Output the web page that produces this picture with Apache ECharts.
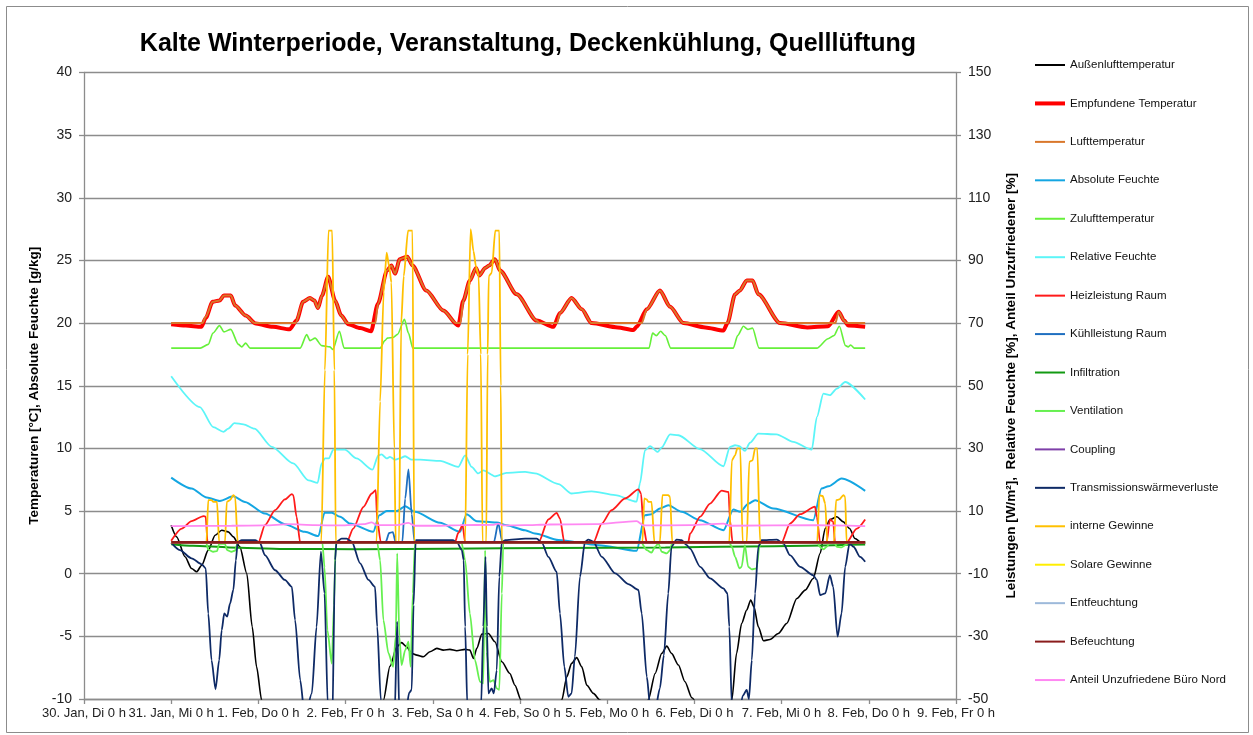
<!DOCTYPE html>
<html>
<head>
<meta charset="utf-8">
<script src="https://cdn.jsdelivr.net/npm/echarts@6/dist/echarts.min.js"></script>
<style>
  html, body { margin: 0; padding: 0; background: #fff; }
  #chart { width: 1253px; height: 735px; }
</style>
</head>
<body>
<div id="chart"></div>
<script>
// Time axis: hours since 30 Jan 0 h, one tick per day
const xLabels = ['30. Jan, Di 0 h', '31. Jan, Mi 0 h', '1. Feb, Do 0 h', '2. Feb, Fr 0 h', '3. Feb, Sa 0 h',
  '4. Feb, So 0 h', '5. Feb, Mo 0 h', '6. Feb, Di 0 h', '7. Feb, Mi 0 h', '8. Feb, Do 0 h', '9. Feb, Fr 0 h'];

// Left axis: temperatures [°C] and absolute humidity [g/kg]; pairs are [hour, value]
const aussenluft = [[24,3.87],[25.5,2.94],[27.8,1.35],[29.6,0.42],[31.0,0.15],[32.4,0.68],[34.2,1.88],[36.1,3.07],[37.9,3.47],[39.7,3.34],[41.1,2.94],[42.9,2.14],[44.8,0.02],[46.3,-4.24],[47.5,-7.43],[48.9,-10.1],[52,-12.5],[58,-14],[66,-15],[74,-13],[80,-11.5],[82.4,-10.1],[84.2,-7.4],[86.1,-5.83],[87.4,-5.5],[88.8,-5.83],[90.2,-6.36],[91.6,-6.5],[93.4,-6.63],[95.2,-6.23],[97.1,-5.96],[98.9,-6.1],[100.7,-6.04],[102.6,-6.15],[104.9,-6.04],[106.2,-6.1],[107.2,-6.76],[108.1,-5.96],[109.5,-4.82],[111.3,-4.77],[113.1,-5.43],[115.0,-7.03],[117.2,-7.96],[118.6,-8.9],[120.3,-10.1],[124,-11],[128,-11.5],[131.5,-10.08],[132.9,-8.22],[134.2,-7.16],[135.6,-6.7],[137.0,-7.43],[138.4,-8.9],[140.2,-9.55],[142.0,-10.08],[146,-12],[151,-12.5],[155.3,-10.08],[157.2,-7.96],[159.0,-6.36],[160.4,-5.78],[161.7,-6.36],[163.6,-7.29],[165.4,-8.62],[167.3,-9.9],[170,-11],[175,-11.5],[178.3,-10.08],[179.6,-6.36],[181.0,-3.97],[182.4,-2.9],[183.5,-2.1],[184.4,-2.64],[185.6,-4.24],[187.0,-5.35],[188.8,-5.25],[191.1,-4.77],[193.4,-3.97],[196.2,-1.98],[198.5,-1.31],[200.7,-0.38],[202.6,1.61],[204.0,3.61],[205.3,4.32],[207.2,4.54],[209.0,4.14],[210.7,3.61],[212.2,2.81],[214.0,2.46],[215,2.41]];

const empfunden = [[24,19.9],[28,19.8],[32.3,19.7],[33.5,20.4],[35.4,21.7],[37.3,21.8],[38.5,22.2],[40.4,22.2],[41.6,21.4],[44.5,20.6],[47.3,19.96],[52,19.7],[56.6,19.5],[58.5,20.2],[60.3,21.7],[62.2,22.0],[63.4,21.8],[64.4,21.2],[65.5,22.2],[67.2,23.7],[69.1,21.8],[70.8,20.6],[72.8,19.9],[76,19.6],[79.0,19.35],[80.9,21.55],[83.4,24.2],[84.6,24.6],[85.6,23.95],[86.9,25.1],[89.0,25.3],[90.4,24.6],[94.2,22.6],[98.9,21.0],[103.0,19.8],[104.4,21.8],[106.2,23.4],[107.9,24.4],[108.8,23.8],[110.4,24.4],[111.5,24.6],[113.1,25.1],[114.5,24.2],[119.1,22.3],[124.6,20.2],[129.2,19.7],[131.0,20.8],[134.2,22.0],[137.0,21.1],[139.7,20.0],[146.9,19.65],[151.2,19.45],[152.1,19.7],[154.9,21.1],[158.5,22.6],[161.3,21.3],[165.0,20.0],[171,19.65],[176.0,19.4],[177.1,20.0],[179.2,22.3],[180.5,22.6],[182.4,23.4],[184.0,23.4],[185.6,22.3],[191.6,20.0],[199.1,19.65],[204.8,19.75],[207.7,20.9],[209.2,20.2],[210.4,19.8],[215,19.7]];

const lufttemp = [[24,20.0],[32.6,20.0],[33.5,20.5],[35.4,21.7],[37.3,21.8],[38.5,22.2],[40.4,22.2],[41.6,21.4],[44.5,20.6],[47.0,20.0],[58.2,20.0],[60.3,21.7],[62.2,22.0],[63.4,21.8],[64.4,21.2],[65.5,22.2],[67.2,23.7],[69.1,21.8],[70.8,20.6],[72.4,20.0],[80.2,20.0],[80.9,21.55],[83.4,24.2],[84.6,24.6],[85.6,23.95],[86.9,25.1],[89.0,25.3],[90.4,24.6],[94.2,22.6],[98.9,21.0],[102.4,20.0],[103.6,20.0],[104.4,21.8],[106.2,23.4],[107.9,24.4],[108.8,23.8],[110.4,24.4],[111.5,24.6],[113.1,25.1],[114.5,24.2],[119.1,22.3],[124.6,20.2],[125.4,20.0],[130.2,20.0],[131.0,20.8],[134.2,22.0],[137.0,21.1],[139.7,20.0],[153.5,20.0],[154.9,21.1],[158.5,22.6],[161.3,21.3],[165.0,20.0],[177.1,20.0],[179.2,22.3],[180.5,22.6],[182.4,23.4],[184.0,23.4],[185.6,22.3],[191.6,20.0],[206.8,20.0],[207.7,20.9],[209.2,20.2],[209.8,20.0],[215,20.0]];

const absFeuchte = [[24,7.67],[29.6,6.8],[33.8,6.08],[37.4,5.81],[41.1,6.18],[44.3,5.73],[49.8,4.8],[55.3,3.95],[60.8,3.34],[64.5,3.0],[66.2,4.86],[68.2,4.86],[70.5,4.54],[73.2,4.0],[79.6,3.34],[81.3,4.67],[83.3,5.0],[86.1,5.0],[88.4,5.39],[91.1,4.94],[98.0,4.06],[103.5,3.34],[105.3,4.75],[108.1,4.19],[110.8,4.14],[113.6,4.08],[116.3,3.87],[121.4,3.47],[124.1,3.21],[130.6,2.68],[141.6,2.28],[152.1,1.83],[154.4,4.67],[156.2,4.75],[158.5,5.2],[160.8,5.47],[164.5,4.94],[169.5,4.27],[176.0,3.47],[178.7,5.12],[180.6,4.94],[182.9,5.6],[184.7,5.87],[189.7,5.2],[200.7,4.27],[203.0,6.8],[204.9,6.98],[208.5,7.59],[215,6.61]];

const zuluft = [[24,18.0],[32.0,18.0],[34.2,18.3],[35.5,19.2],[37.3,19.8],[38.5,19.3],[40.4,19.5],[42.5,18.3],[43.4,18.1],[44.5,18.4],[45.7,18.0],[59.5,18.0],[61.3,19.08],[62.2,18.6],[63.6,18.8],[65.4,18.2],[67.7,18.1],[68.5,17.9],[70.3,19.35],[71.6,18.0],[81.5,18.0],[82.8,18.6],[83.5,18.8],[85.1,18.85],[86.3,19.1],[88.2,20.3],[89.3,19.2],[90.5,18.0],[155.5,18.0],[156.5,19.2],[157.5,19.0],[158.7,19.35],[160,19.0],[161.5,18.0],[178.7,18.0],[179.9,19.0],[181.5,19.75],[182.7,19.5],[184.0,19.6],[185.8,18.0],[201.7,18.0],[204.8,18.75],[206.4,19.0],[207.9,19.75],[209.6,18.2],[210.3,18.1],[211.0,18.25],[212.0,18.0],[215,18.0]];

// Right axis: powers [W/m²], relative humidity [%], share of dissatisfied [%]
const relFeuchte = [[24,53.0],[31.9,43.2],[35.6,36.8],[38.4,35.3],[39.7,36.3],[41.4,38.1],[43.9,37.7],[46.9,36.3],[51.7,30.5],[57.6,25.2],[61.8,19.8],[64.3,19.0],[65.4,25.2],[66.3,26.8],[67.4,26.8],[68.6,29.6],[71.8,29.6],[75.0,26.8],[79.4,23.2],[81.0,27.8],[81.9,28.1],[83.3,26.8],[84.2,27.3],[85.6,26.4],[86.8,26.8],[88.4,27.5],[90.2,26.4],[92.5,26.4],[98.0,26.0],[103.0,24.1],[104.9,27.8],[106.7,24.1],[108.5,22.0],[109.9,23.0],[113.1,21.1],[116.3,22.2],[121.4,22.5],[124.1,22.0],[130.6,18.6],[134.2,15.6],[139.7,16.3],[146.2,15.1],[152.1,13.0],[153.0,18.8],[154.4,29.4],[155.8,30.7],[157.9,28.9],[159.0,30.3],[161.3,34.5],[163.6,34.2],[169.5,29.8],[176.0,24.3],[177.8,30.5],[179.2,31.0],[180.4,30.7],[181.9,29.2],[183.3,31.8],[185.6,34.7],[190.6,34.5],[195.2,32.1],[200.3,29.6],[201.7,40.0],[203.5,47.5],[205.3,47.0],[207.2,49.1],[209.5,51.2],[215,45.6]];

const heizleistung = [[24,0.5],[26.9,4.4],[29.6,6.8],[32.9,8.4],[33.5,8.2],[34.0,0],[48.0,0],[49.8,5.5],[52.6,10.3],[55.3,13.7],[57.2,15.4],[57.6,15.1],[58.5,8.2],[59.5,0],[72.3,0],[74.1,4.4],[76.9,11.3],[79.2,15.6],[80.3,16.7],[80.7,7.1],[81.7,0],[102.1,0],[103.0,3.0],[104.2,5.5],[104.9,0],[125.1,0],[127.8,7.3],[130.1,9.4],[131.0,7.6],[132.2,0],[140.2,0],[142.5,6.0],[145.2,10.3],[148.9,14.0],[152.6,16.9],[153.3,15.6],[154.0,5.0],[154.9,0],[166.3,0],[166.8,2.8],[169.6,8.2],[172.3,12.4],[175.5,16.5],[177.4,16.1],[177.8,7.1],[178.5,0],[192.0,0],[194.3,6.0],[197.1,9.0],[201.2,11.4],[201.7,8.2],[202.6,0],[204.4,0],[205.3,7.3],[206.2,6.6],[206.7,0],[209.9,0],[212.7,4.4],[215,7.3]];

const kuehlleistung = [[24,0],[83.0,0],[84.0,3.0],[85.0,3.3],[85.8,0],[87.6,0],[88.4,14],[89.3,23.3],[90.2,9],[91.0,0],[112.8,0],[114.0,6.1],[115.2,0],[215,0]];

const infiltration = [[24,-0.6],[30,-1.1],[40,-1.6],[55,-2.1],[75,-2.2],[100,-2.0],[130,-1.8],[160,-1.6],[190,-1.2],[215,-0.7]];

const ventilation = [[24,0],[33.6,0],[34.2,-2.3],[35.6,-3.0],[36.6,-2.8],[37.2,-0.5],[38.8,-0.5],[39.4,-2.5],[40.6,-3.0],[41.6,-2.6],[42.3,0],[65.6,0],[66.2,-8],[67.0,-28],[68.2,-38.7],[68.8,-20],[69.3,0],[80.7,0],[81.5,-5.7],[82.4,-24.8],[83.8,-35.4],[85.1,-39.7],[85.8,-30],[86.2,-3.5],[86.8,-30],[87.4,-39.2],[88.4,-34.4],[89.3,-31.7],[89.9,-39.7],[90.5,-16.3],[91.1,0],[103.9,0],[104.9,-5.7],[106.2,-22.7],[107.6,-37.6],[109.0,-44.5],[109.9,-45.0],[110.4,-2.5],[110.8,-35],[111.7,-44.5],[112.7,-44.0],[113.6,-46.6],[114.3,-47.1],[115.0,-16.3],[115.4,0],[153.3,0],[154.9,-2.5],[156.2,-3.3],[157.2,-1.4],[158.1,-0.3],[159.0,-3.0],[160.4,-3.5],[161.3,-2.5],[161.9,0],[177.6,0],[178.3,-1.4],[179.2,-4.6],[180.4,-8.3],[181.0,-7.8],[181.9,-0.9],[182.8,-7.8],[183.8,-8.6],[185.1,-8.3],[185.9,-1.4],[186.3,0],[201.8,0],[202.5,-1.4],[203.5,-2.2],[204.4,-1.4],[205.3,0],[206.5,0],[207.2,-1.4],[208.5,-1.6],[209.7,-0.8],[210.4,0],[215,0]];

const coupling = [[24,0],[215,0]];

const transmission = [[24,-0.1],[26.4,-2.5],[29.6,-5.1],[32.4,-7.0],[33.5,-8.3],[34.2,-22.7],[35.1,-37.6],[36.2,-46.9],[37.2,-37.6],[37.9,-28.0],[38.6,-22.7],[39.4,-23.7],[40.2,-19.5],[41.1,-15.2],[41.8,-5.7],[42.3,0.2],[43.4,0.7],[47.1,0.7],[48.4,-0.1],[49.8,-4.1],[52.6,-8.9],[55.3,-12.0],[57.2,-14.2],[58.1,-24.8],[59.5,-43.9],[60.8,-56],[62.7,-48.2],[64.0,-27],[65.2,-3.0],[66.2,-16.3],[67.1,-52],[68.3,-60],[69.1,-5.7],[69.5,0.2],[70.9,1.2],[72.3,1.2],[73.7,0.2],[76.0,-6.7],[78.3,-12.0],[80.1,-14.2],[80.7,-26.9],[81.7,-50.3],[83,-60],[85.5,-55],[86.2,-25.3],[86.8,-55],[88.5,-55],[89.5,-48],[90.2,-47],[90.7,-20],[91.3,0.7],[95,0.7],[101.5,0.7],[102.7,-0.1],[104.0,-2.5],[104.5,-5.7],[104.9,-26.9],[105.5,-52],[107,-60],[109.3,-52],[109.9,-26.9],[110.5,-4.6],[110.9,-26.9],[111.3,-48.2],[112.2,-46.6],[112.8,-48.2],[113.6,-40.8],[114.3,-11.0],[115.0,0.2],[116,0.7],[121.4,1.2],[124.6,1.2],[126.0,-0.1],[127.8,-4.6],[130.1,-9.4],[131.0,-22.7],[132.2,-39.7],[133.3,-49.3],[134.2,-48.2],[135.1,-36.5],[136.5,-11.0],[137.9,0.2],[138.8,0.9],[140.2,0.2],[142.5,-4.6],[146.2,-9.9],[149.8,-13.3],[152.6,-15.2],[153.5,-22.7],[154.9,-42.9],[155.8,-52],[157,-55],[158.5,-46.6],[159.6,-36],[160.8,-16.3],[161.7,-1.4],[163.1,0.9],[164.5,0.7],[165.9,-0.9],[166.8,-2.0],[169.6,-7.8],[172.3,-11.5],[176.0,-14.7],[177.1,-16.3],[177.6,-26.9],[178.3,-52],[180,-58],[181.3,-49],[182.4,-47.1],[183.0,-50],[183.8,-37.6],[184.7,-16.3],[185.6,-1.4],[186.5,0.7],[190.7,0.9],[192.5,-0.4],[194.3,-4.1],[197.1,-7.8],[200.7,-10.5],[201.7,-12.0],[202.6,-16.8],[204.0,-16.3],[205.3,-10.5],[206.2,-14.2],[207.4,-30.1],[208.5,-22.7],[209.5,-7.8],[210.7,-0.4],[211.8,-1.4],[213.6,-4.6],[215,-6.2]];

const interneGewinne = [[24,0],[33.7,0],[34.2,13.5],[35.1,13.5],[35.6,12.9],[36.6,12.9],[37.2,0],[38.8,0],[39.3,12.9],[40.2,13.5],[41.1,15.1],[41.6,14.5],[42.3,0],[65.3,0],[66.3,55],[67.3,99.5],[68.3,99.5],[68.9,55],[69.3,0],[80.5,0],[81.5,45],[82.5,80],[83.3,92.5],[84.0,88],[84.6,83],[85.4,30],[85.8,0],[86.7,0],[87.3,70],[88.0,85],[89.2,99.5],[90.4,99.5],[90.9,0],[104.9,0],[105.6,60],[106.4,100],[107.2,93],[107.9,88],[108.6,85],[109.2,60],[109.7,0],[110.7,0],[111.1,60],[111.4,85],[112.2,86],[113.2,99.5],[114.3,99.5],[114.7,50],[115.0,0],[153.7,0],[154.2,14.0],[154.9,13.7],[155.3,12.9],[156.2,12.9],[157.0,0],[158.5,0],[159.2,15.1],[160.8,15.1],[161.3,14.5],[161.9,0],[177.6,0],[178.3,26.2],[179.2,27.8],[179.8,30.0],[180.6,30.0],[181.3,0],[182.4,0],[183.1,25.7],[184.0,26.2],[184.7,30.0],[185.3,30.0],[186.1,0],[201.8,0],[202.4,15.1],[203.3,14.8],[204.0,12.4],[204.6,0],[206.4,0],[207.0,13.5],[207.9,13.7],[209.0,15.1],[209.5,14.5],[209.9,0],[215,0]];

const solareGewinne = [[24,0],[215,0]];
const entfeuchtung = [[24,0],[215,0]];
const befeuchtung = [[24,0],[215,0]];

const unzufrieden = [[24,5.2],[40.6,5.3],[49.8,5.4],[56.2,5.8],[63.6,5.5],[70.5,5.4],[76.9,5.8],[79.2,6.4],[80.6,5.5],[86.1,5.5],[89.3,6.2],[91.1,5.3],[98.0,5.3],[103.5,5.5],[112.7,5.6],[114.0,6.0],[115.4,5.4],[121.4,5.5],[127.8,5.7],[140.6,5.8],[152.1,6.8],[154.0,5.4],[166.8,5.5],[176.0,6.0],[177.8,5.3],[201.7,5.5],[215,5.2]];

const FONT = 'Liberation Sans';

function line(name, data, color, width, axis) {
  return {
    name: name,
    type: 'line',
    yAxisIndex: axis,
    data: data,
    showSymbol: false,
    symbol: 'none',
    smooth: 0.25,
    smoothMonotone: 'x',
    clip: true,
    lineStyle: { color: color, width: width },
    itemStyle: { color: color },
    emphasis: { disabled: true }
  };
}

const series = [
  line('Außenlufttemperatur', aussenluft, '#000000', 1.6, 0),
  line('Empfundene Temperatur', empfunden, '#FF0000', 4, 0),
  line('Lufttemperatur', lufttemp, '#D9772B', 2, 0),
  line('Absolute Feuchte', absFeuchte, '#14A6E2', 2, 0),
  line('Zulufttemperatur', zuluft, '#66F03A', 1.6, 0),
  line('Relative Feuchte', relFeuchte, '#5CF5F8', 1.8, 1),
  line('Heizleistung Raum', heizleistung, '#FF1A1A', 1.8, 1),
  line('Kühlleistung Raum', kuehlleistung, '#1F6FC0', 1.8, 1),
  line('Infiltration', infiltration, '#139A13', 2, 1),
  line('Ventilation', ventilation, '#66F050', 1.8, 1),
  line('Coupling', coupling, '#7E3FA8', 2, 1),
  line('Transmissionswärmeverluste', transmission, '#0E2A66', 1.8, 1),
  line('interne Gewinne', interneGewinne, '#FFC000', 1.8, 1),
  line('Solare Gewinne', solareGewinne, '#FFEE00', 2, 1),
  line('Entfeuchtung', entfeuchtung, '#9DB9DA', 2, 1),
  line('Befeuchtung', befeuchtung, '#8A1C1C', 2.6, 1),
  line('Anteil Unzufriedene Büro Nord', unzufrieden, '#FF88F2', 1.8, 1)
];

// Legend keys are plain strokes; the felt temperature key is drawn heavier
const thinKey = 'path://M0,0H30V2H0Z';
const thickKey = 'path://M0,0H30V4H0Z';

const gridColor = '#8C8C8C';

const chart = echarts.init(document.getElementById('chart'), null, { renderer: 'canvas' });
chart.setOption({
  animation: false,
  backgroundColor: '#ffffff',
  title: {
    text: 'Kalte Winterperiode, Veranstaltung, Deckenkühlung, Quelllüftung',
    left: 523,
    top: 27,
    textAlign: 'center',
    textStyle: { fontFamily: FONT, fontSize: 25, fontWeight: 'bold', color: '#000' }
  },
  legend: {
    orient: 'vertical',
    left: 1030,
    top: 54,
    itemWidth: 30,
    itemHeight: 12,
    itemGap: 26.44,
    textStyle: { fontFamily: FONT, fontSize: 11.5, color: '#111' },
    data: series.map(s => ({ name: s.name, icon: s.name === 'Empfundene Temperatur' ? thickKey : thinKey }))
  },
  grid: { left: 84, right: 297, top: 72.5, bottom: 36, containLabel: false },
  xAxis: {
    type: 'value',
    min: 0,
    max: 240,
    interval: 24,
    axisLine: { show: true, onZero: false, lineStyle: { color: gridColor, width: 1.3 } },
    axisTick: { show: true, length: 5, lineStyle: { color: gridColor, width: 1.3 } },
    splitLine: { show: false },
    axisLabel: {
      fontFamily: FONT, fontSize: 13, color: '#222', margin: 8,
      showMinLabel: true, showMaxLabel: true, hideOverlap: false,
      formatter: v => xLabels[Math.round(v / 24)]
    }
  },
  yAxis: [
    {
      type: 'value', position: 'left', min: -10, max: 40, interval: 5,
      name: 'Temperaturen [°C], Absolute Feuchte [g/kg]',
      nameLocation: 'middle', nameGap: 41,
      nameTextStyle: { fontFamily: FONT, fontSize: 13.5, fontWeight: 'bold', color: '#000' },
      axisLine: { show: true, lineStyle: { color: gridColor, width: 1.3 } },
      axisTick: { show: true, length: 5, lineStyle: { color: gridColor, width: 1.3 } },
      splitLine: { show: true, lineStyle: { color: gridColor, width: 1.3 } },
      axisLabel: { fontFamily: FONT, fontSize: 14, color: '#222', margin: 12 }
    },
    {
      type: 'value', position: 'right', min: -50, max: 150, interval: 20,
      name: 'Leistungen [W/m²],  Relative Feuchte [%], Anteil Unzufriedener [%]',
      nameLocation: 'middle', nameGap: 48,
      nameTextStyle: { fontFamily: FONT, fontSize: 13.5, fontWeight: 'bold', color: '#000' },
      axisLine: { show: true, lineStyle: { color: gridColor, width: 1.3 } },
      axisTick: { show: true, length: 5, lineStyle: { color: gridColor, width: 1.3 } },
      splitLine: { show: false },
      axisLabel: { fontFamily: FONT, fontSize: 14, color: '#222', margin: 12 }
    }
  ],
  graphic: [{
    type: 'rect',
    shape: { x: 6.5, y: 6.5, width: 1242, height: 726 },
    style: { fill: null, stroke: '#8C8C8C', lineWidth: 1 },
    silent: true,
    z: -10
  }],
  series: series
});
</script>
</body>
</html>
